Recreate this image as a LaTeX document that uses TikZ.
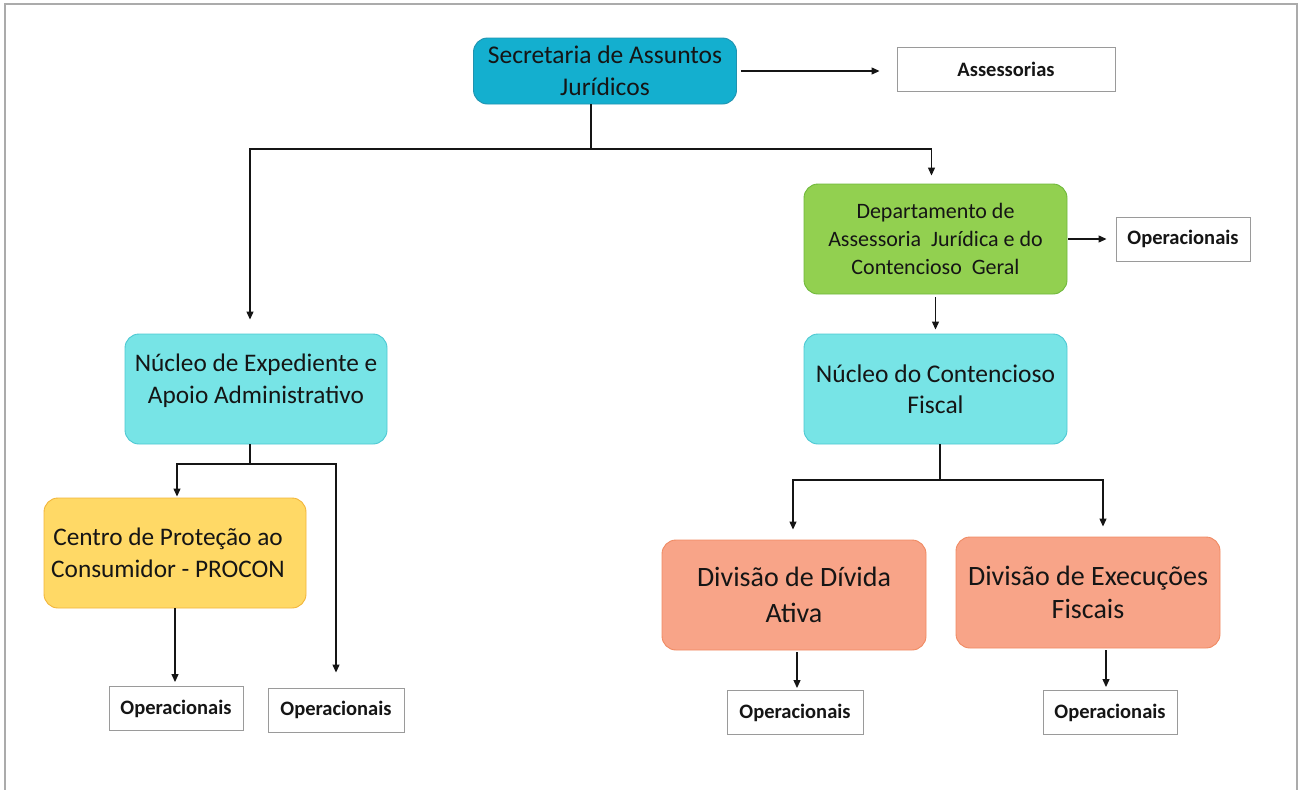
\documentclass[tikz,border=0pt]{standalone}
\usepackage{fontspec}
\setmainfont{Carlito}
\usetikzlibrary{arrows.meta}

\definecolor{framegray}{HTML}{ABABAB}
\definecolor{secfill}{HTML}{14AFCF}
\definecolor{secline}{HTML}{1F93B0}
\definecolor{deptfill}{HTML}{92D050}
\definecolor{deptline}{HTML}{6FB83A}
\definecolor{nucfill}{HTML}{77E4E6}
\definecolor{nucline}{HTML}{4CC8D2}
\definecolor{procfill}{HTML}{FFD966}
\definecolor{procline}{HTML}{F2B53A}
\definecolor{divfill}{HTML}{F8A488}
\definecolor{divline}{HTML}{F08A62}
\definecolor{opline}{HTML}{9A9A9A}
\definecolor{ink}{HTML}{151515}

\begin{document}
\begin{tikzpicture}[x=1pt,y=-1pt,
  unit/.style={draw, rounded corners=14pt, line width=0.9pt, inner sep=0pt,
    align=center, text=ink},
  opbox/.style={draw=opline, fill=white, line width=0.9pt, inner sep=0pt,
    minimum width=134pt, minimum height=44pt,
    font=\fontsize{20.5}{24}\selectfont\bfseries, text=ink},
  arr/.style={draw=ink, line width=1.2pt, -{Triangle[length=8pt,width=7pt]}},
  link/.style={draw=ink, line width=1.2pt}]
\useasboundingbox (0,0) rectangle (1302,790);

% page frame
\draw[framegray, line width=2pt] (5,790) -- (5,4) -- (1297,4) -- (1297,790);

% organisational units
\node[unit, fill=secfill, draw=secline, minimum width=263pt, minimum height=66pt,
  font=\fontsize{25.5}{32}\selectfont] (sec) at (605,71)
  {Secretaria de Assuntos\\Jurídicos};
\node[opbox, minimum width=218pt] (ass) at (1006,69) {Assessorias};

\node[unit, fill=deptfill, draw=deptline, minimum width=263pt, minimum height=110pt,
  font=\fontsize{22}{28}\selectfont] (dept) at (935.5,239)
  {Departamento de\\Assessoria \ Jurídica e do\\Contencioso \ Geral};
\node[opbox] (opdept) at (1183,239) {Operacionais};

\node[unit, fill=nucfill, draw=nucline, minimum width=262pt, minimum height=110pt,
  label={[align=center, text=ink, font=\fontsize{25.3}{32}\selectfont, yshift=8pt]center:%
    Núcleo de Expediente e\\Apoio Administrativo}] (nea) at (256,389) {};

\node[unit, fill=nucfill, draw=nucline, minimum width=263pt, minimum height=110pt,
  font=\fontsize{25.5}{31}\selectfont] (ncf) at (935.5,389)
  {Núcleo do Contencioso\\Fiscal};

\node[unit, fill=procfill, draw=procline, minimum width=262pt, minimum height=110pt,
  label={[align=center, text=ink, font=\fontsize{25.3}{32}\selectfont, xshift=-7pt]center:%
    Centro de Proteção ao\\Consumidor - PROCON}] (procon) at (175,553) {};

\node[opbox] (opproc) at (176,708.5) {Operacionais};
\node[opbox, minimum width=136pt] (opnea) at (336,710) {Operacionais};

\node[unit, fill=divfill, draw=divline, minimum width=264pt, minimum height=110pt,
  font=\fontsize{28}{36}\selectfont] (dda) at (794,595)
  {Divisão de Dívida\\Ativa};
\node[unit, fill=divfill, draw=divline, minimum width=264pt, minimum height=111pt,
  font=\fontsize{28}{33}\selectfont] (def) at (1088,592.5)
  {Divisão de Execuções\\Fiscais};

\node[opbox, minimum width=136pt] (opdda) at (795,712.5) {Operacionais};
\node[opbox] (opdef) at (1110,712.5) {Operacionais};

% junction points of the branching connectors
\coordinate (jsec) at (591,149);
\coordinate (jnea) at (250,464);
\coordinate (jncf) at (940,480);

% connectors
\draw[arr, shorten <=4pt, shorten >=17pt] (sec.east) -- (sec.east -| ass.west);

\draw[link] (sec.south -| jsec) -- (jsec);
\draw[arr, shorten >=14pt] (jsec) -| ([xshift=-6pt]nea.north);
\draw[arr, shorten >=8pt] (jsec) -| ([xshift=-4pt]dept.north);

\draw[arr, shorten <=1pt, shorten >=9pt] (dept.east) -- (dept.east -| opdept.west);
\draw[arr, shorten <=3pt, shorten >=4pt] (dept.south) -- (ncf.north);

\draw[link] (nea.south -| jnea) -- (jnea);
\draw[arr, shorten >=1pt] (jnea) -| ([xshift=2pt]procon.north);
\draw[arr, shorten >=15pt] (jnea) -| (opnea.north);
\draw[arr, shorten >=4pt] (procon.south) -- (procon.south |- opproc.north);

\draw[link] (ncf.south -| jncf) -- (jncf);
\draw[arr, shorten >=10pt] (jncf) -| ([xshift=-1pt]dda.north);
\draw[arr, shorten >=10pt] (jncf) -| ([xshift=15pt]def.north);

\draw[arr, shorten <=2pt, shorten >=2pt] ([xshift=3pt]dda.south) -- ([xshift=3pt]dda.south |- opdda.north);
\draw[arr, shorten <=2pt, shorten >=3pt] ([xshift=18pt]def.south) -- ([xshift=18pt]def.south |- opdef.north);
\end{tikzpicture}
\end{document}
